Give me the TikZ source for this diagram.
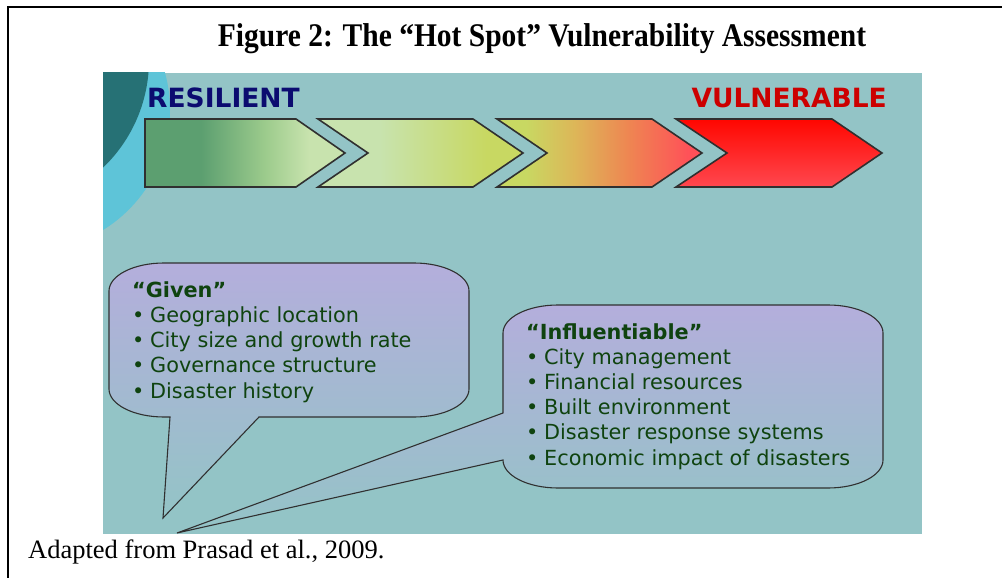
\documentclass[tikz,border=0pt]{standalone}
\usepackage{fontspec}
\setmainfont{Liberation Serif}
\newfontfamily\slidefont{DejaVu Sans}
\usetikzlibrary{positioning}

\definecolor{panel}{HTML}{93C4C6}
\definecolor{deepteal}{HTML}{267175}
\definecolor{skyring}{HTML}{5EC4D8}
\definecolor{navy}{HTML}{0B0B70}
\definecolor{alarm}{HTML}{CC0000}
\definecolor{lilac}{HTML}{B4AEDC}
\definecolor{leaf}{HTML}{0F430F}
\definecolor{edge}{HTML}{303030}
\definecolor{moss}{HTML}{5C9F70}
\definecolor{mint}{HTML}{9CCB8C}
\definecolor{pale}{HTML}{C8E3AE}
\definecolor{lime}{HTML}{C8D862}
\definecolor{sand}{HTML}{DDB658}
\definecolor{coral}{HTML}{EE8652}
\definecolor{rose}{HTML}{FF5058}

% colour runs of the first three steps
\pgfdeclarehorizontalshading{stepone}{100bp}{color(0bp)=(moss);color(25bp)=(moss);color(39bp)=(moss);color(55bp)=(mint);color(66bp)=(pale);color(100bp)=(pale)}
\pgfdeclarehorizontalshading{steptwo}{100bp}{color(0bp)=(pale);color(25bp)=(pale);color(40bp)=(pale);color(66bp)=(lime);color(100bp)=(lime)}
\pgfdeclarehorizontalshading{stepthree}{100bp}{color(0bp)=(lime);color(25bp)=(lime);color(32bp)=(lime);color(44bp)=(sand);color(57bp)=(coral);color(72bp)=(rose);color(100bp)=(rose)}

\newcommand{\bul}{\makebox[18pt][l]{\textbullet}}

\begin{document}
\begin{tikzpicture}[x=1pt,y=-1pt,
    chevron/.style={draw=edge,line width=1.6pt,line join=miter},
    bubble/.style={draw=edge,line width=1.1pt,top color=lilac,bottom color=panel},
    endlabel/.style={font=\slidefont\bfseries\fontsize{26.5}{30}\selectfont,inner sep=0pt},
    points/.style={font=\slidefont\fontsize{20.8}{25.2}\selectfont,text=leaf,align=left,inner sep=0pt,anchor=base west}]
  \useasboundingbox (0,0) rectangle (1002,578);

  % page frame
  \draw[line width=1.5pt] (1002,7) -- (8,7) -- (8,578);
  \node[font=\bfseries\fontsize{29.5}{32}\selectfont,anchor=base,yscale=1.12,transform shape] (title) at (542,47)
    {Figure 2: The “Hot Spot” Vulnerability Assessment};

  % slide background
  \fill[panel] (103,73) rectangle (922,534);
  \begin{scope}
    \clip (103,73) rectangle (922,534);
    \fill[skyring] (29,110) circle[radius=141];
    \fill[deepteal] (0,60) circle[radius=149];
  \end{scope}

  \node[endlabel,text=navy,anchor=base west] (resilient) at (147,107) {RESILIENT};
  \node[endlabel,text=alarm,anchor=base east] (vulnerable) at (887,107) {VULNERABLE};

  % the four steps
  \draw[chevron,shading=stepone] (145,119) -- (296,119) -- (345,153) -- (296,187) -- (145,187) -- cycle;
  \draw[chevron,shading=steptwo] (318,119) -- (473,119) -- (523,153) -- (473,187) -- (318,187) -- (368,153) -- cycle;
  \draw[chevron,shading=stepthree] (497,119) -- (652,119) -- (702,153) -- (652,187) -- (497,187) -- (547,153) -- cycle;
  \draw[chevron,top color=red!95!orange,bottom color=rose!90!red] (676,119) -- (832,119) -- (882,153) -- (832,187) -- (676,187) -- (727,153) -- cycle;

  % call-outs
  \draw[bubble] (164,263) -- (414,263) arc[start angle=-90,end angle=0,x radius=55,y radius=28]
    -- (469,389) arc[start angle=0,end angle=90,x radius=55,y radius=28]
    -- (259,417) -- (163,518) -- (170,417) -- (164,417)
    arc[start angle=90,end angle=180,x radius=55,y radius=28]
    -- (109,291) arc[start angle=180,end angle=270,x radius=55,y radius=28] -- cycle;
  \draw[bubble] (558,305) -- (828,305) arc[start angle=-90,end angle=0,x radius=55,y radius=28]
    -- (883,460) arc[start angle=0,end angle=90,x radius=55,y radius=28]
    -- (558,488) arc[start angle=90,end angle=180,x radius=55,y radius=28]
    -- (177,533) -- (503,413) -- (503,333)
    arc[start angle=180,end angle=270,x radius=55,y radius=28] -- cycle;

  % lists sit on the baseline of their last line
  \node[points] (given) at (132,398) {\textbf{“Given”}\\
    \bul Geographic location\\
    \bul City size and growth rate\\
    \bul Governance structure\\
    \bul Disaster history};
  \node[points] (influence) at (526,465) {\textbf{“Influentiable”}\\
    \bul City management\\
    \bul Financial resources\\
    \bul Built environment\\
    \bul Disaster response systems\\
    \bul Economic impact of disasters};

  \node[font=\fontsize{26.5}{30}\selectfont,anchor=base west,inner sep=0pt] (source) at (28,558)
    {Adapted from Prasad et al., 2009.};
\end{tikzpicture}
\end{document}
